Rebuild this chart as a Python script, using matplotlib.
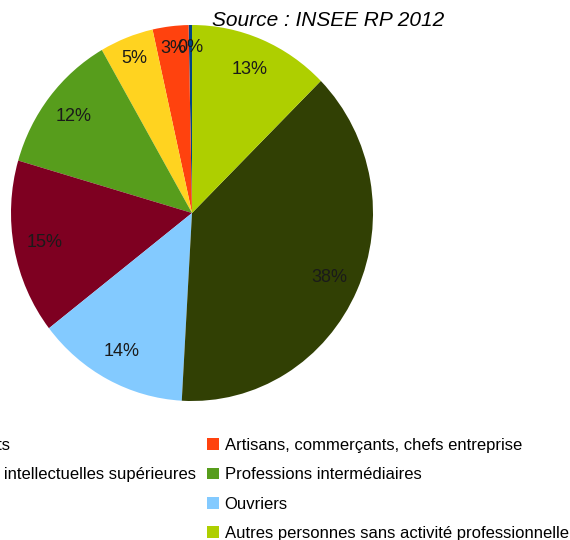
import numpy as np
import matplotlib
matplotlib.use("Agg")
import matplotlib.pyplot as plt
from matplotlib.patches import Patch

# Data
categories = [
    "Agriculteurs exploitants",
    "Artisans, commerçants, chefs entreprise",
    "Cadres et professions intellectuelles supérieures",
    "Professions intermédiaires",
    "Employés",
    "Ouvriers",
    "Retraités",
    "Autres personnes sans activité professionnelle",
]
shares = [0.3, 3.2, 4.8, 12.2, 15.0, 13.6, 38.3, 12.6]
colors = ["#004586", "#ff420e", "#ffd320", "#579d1c",
          "#7e0021", "#83caff", "#314004", "#aecf00"]

plt.rcParams['font.family'] = ['Liberation Sans', 'DejaVu Sans']

W, H = 570, 540
fig = plt.figure(figsize=(W / 100, H / 100), dpi=100)

# pie centre (192, 213) px, slightly stretched vertically like the source image
cx, cy, rx, ry = 192, 213, 181, 188
ax = fig.add_axes([(cx - rx) / W, (H - cy - ry) / H, 2 * rx / W, 2 * ry / H])

wedges, texts, autotexts = ax.pie(
    shares, colors=colors, startangle=90, counterclock=True,
    autopct=lambda p: "%d%%" % round(p), pctdistance=0.83,
    wedgeprops=dict(linewidth=0),
    textprops=dict(fontsize=13, color="#1a1a1a"))
ax.set_xlim(-1, 1)
ax.set_ylim(-1, 1)
ax.set_aspect("auto")
ax.axis("off")

# small slices: push their labels towards the rim
for w, t, v in zip(wedges, autotexts, shares):
    if v < 6:
        th = np.deg2rad((w.theta1 + w.theta2) / 2)
        t.set_position((0.88 * np.cos(th), 0.88 * np.sin(th)))
autotexts[0].set_zorder(5)  # "0%" sits over "3%" as in the source

fig.text(328 / W, 1 - 20 / H, "Source : INSEE RP 2012", ha="center", va="center",
         style="italic", fontsize=15)

# legend: row-major, left column partly off the page
handles = [Patch(facecolor=c, edgecolor="none") for c in colors]
left = [0, 2, 4, 6]
right = [1, 3, 5, 7]
common = dict(frameon=False, fontsize=12, handlelength=0.7, handleheight=0.7,
              handletextpad=0.36, labelspacing=0.86, borderpad=0, borderaxespad=0)
fig.legend([handles[i] for i in left], [categories[i] for i in left],
           loc="upper right", bbox_to_anchor=(196 / W, 1 - 438 / H), **common)
fig.legend([handles[i] for i in right], [categories[i] for i in right],
           loc="upper left", bbox_to_anchor=(207 / W, 1 - 438 / H), **common)

fig.savefig("out.png", dpi=100)
